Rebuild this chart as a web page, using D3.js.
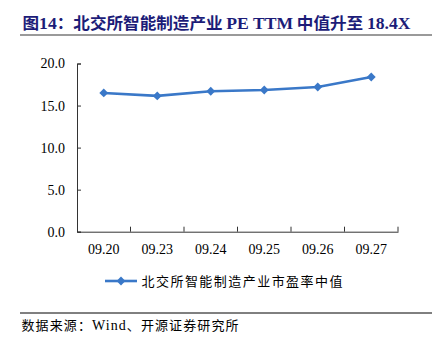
<!DOCTYPE html>
<html>
<head>
<meta charset="utf-8">
<script src="https://cdn.jsdelivr.net/npm/d3@7"></script>
<style>
  html, body { margin: 0; padding: 0; background: #fff; }
  svg { display: block; }
</style>
</head>
<body>
<svg id="chart" width="446" height="350"></svg>
<script>
// Trading dates and median PE TTM of BSE intelligent-manufacturing stocks
const categories = ["09.20", "09.23", "09.24", "09.25", "09.26", "09.27"];
const peMedian = [16.5, 16.15, 16.7, 16.85, 17.2, 18.4];
const yTicks = [0, 5, 10, 15, 20];
// Title pieces: [text, isLatin]
const titleParts = [["图", false], ["14", true], ["：北交所智能制造产业 ", false], ["PE TTM", true], [" 中值升至 ", false], ["18.4X", true]];
const seriesName = "北交所智能制造产业市盈率中值";
const sourceParts = [["数据来源：", false], ["Wind", true], ["、开源证券研究所", false]];

const svg = d3.select("#chart");
const lineColor = "#3A78C8";
const serif = "'Liberation Serif', 'Times New Roman', serif";
const cjk = "'Noto Sans CJK SC', sans-serif";

function mixedText(sel, parts) {
  sel.selectAll("tspan").data(parts).enter().append("tspan")
    .style("font-family", d => d[1] ? serif : cjk)
    .text(d => d[0]);
}

// Title and its rule
const title = svg.append("text")
  .attr("x", 22.5).attr("y", 29)
  .style("font-weight", 700).style("font-size", "16px")
  .attr("fill", "#1C1C78")
  .attr("textLength", 388).attr("lengthAdjust", "spacingAndGlyphs");
mixedText(title, titleParts);
title.selectAll("tspan").filter(d => d[1]).style("font-size", "17px");
svg.append("line")
  .attr("x1", 20).attr("x2", 432).attr("y1", 35).attr("y2", 35)
  .attr("stroke", "#9A9A9A").attr("stroke-width", 2);

// Scales
const x = d3.scaleBand().domain(categories).range([77, 398]);
const y = d3.scaleLinear().domain([0, 20]).range([231.7, 63.5]);

// Y axis with inward ticks
const yAxis = svg.append("g").attr("transform", "translate(77,0)")
  .call(d3.axisLeft(y).tickValues(yTicks).tickFormat(d3.format(".1f"))
    .tickSizeInner(-4).tickSizeOuter(-4).tickPadding(12));
yAxis.attr("font-family", null);
yAxis.select(".domain").attr("stroke", "#333");
yAxis.selectAll(".tick line").attr("stroke", "#333");
yAxis.selectAll(".tick text")
  .style("font-family", serif).style("font-size", "14px").attr("fill", "#000");

// X axis with band boundary ticks pointing up
const xAxis = svg.append("g").attr("transform", `translate(0,${y(0)})`)
  .call(d3.axisBottom(x).tickSize(0).tickPadding(12));
xAxis.attr("font-family", null);
xAxis.select(".domain").attr("stroke", "#333");
xAxis.selectAll(".tick text")
  .style("font-family", serif).style("font-size", "14px").attr("fill", "#000");
const boundaries = categories.map(c => x(c) + x.bandwidth());
xAxis.selectAll("line.boundary").data(boundaries).enter().append("line")
  .attr("class", "boundary")
  .attr("x1", d => d).attr("x2", d => d)
  .attr("y1", 0).attr("y2", -5)
  .attr("stroke", "#333");

// Series line and diamond markers
const cx = c => x(c) + x.bandwidth() / 2;
const line = d3.line().x((d, i) => cx(categories[i])).y(d => y(d));
svg.append("path").datum(peMedian)
  .attr("d", line)
  .attr("fill", "none").attr("stroke", lineColor).attr("stroke-width", 2.6);
const diamond = d3.symbol().type(d3.symbolDiamond2).size(50);
svg.selectAll("path.marker").data(peMedian).enter().append("path")
  .attr("class", "marker")
  .attr("transform", (d, i) => `translate(${cx(categories[i])},${y(d)})`)
  .attr("d", diamond)
  .attr("fill", lineColor);

// Legend
const ly = 281;
svg.append("line")
  .attr("x1", 105).attr("x2", 137).attr("y1", ly).attr("y2", ly)
  .attr("stroke", lineColor).attr("stroke-width", 2.6);
svg.append("path")
  .attr("transform", `translate(121,${ly})`)
  .attr("d", diamond).attr("fill", lineColor);
svg.append("text")
  .attr("x", 141.5).attr("y", ly + 4.5)
  .style("font-family", cjk).style("font-size", "13px").attr("fill", "#000")
  .attr("textLength", 201).attr("lengthAdjust", "spacing")
  .text(seriesName);

// Source note
svg.append("line")
  .attr("x1", 20).attr("x2", 432).attr("y1", 313).attr("y2", 313)
  .attr("stroke", "#000").attr("stroke-width", 1);
const source = svg.append("text")
  .attr("x", 21.5).attr("y", 330)
  .style("font-size", "13px").attr("fill", "#000")
  .attr("textLength", 217).attr("lengthAdjust", "spacing");
mixedText(source, sourceParts);
source.selectAll("tspan").filter(d => d[1]).style("font-size", "14px");
</script>
</body>
</html>
